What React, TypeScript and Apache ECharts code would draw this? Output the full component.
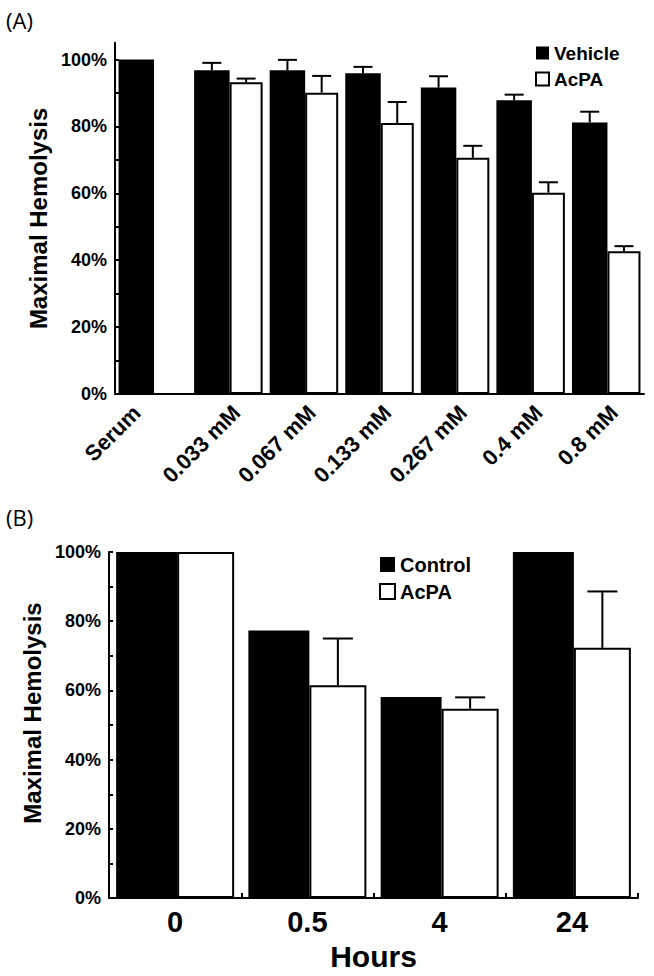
import React, { useEffect, useRef } from "react";
import * as echarts from "echarts";

// ---------- Data ----------
const catsA = ["Serum", "0.033 mM", "0.067 mM", "0.133 mM", "0.267 mM", "0.4 mM", "0.8 mM"];
const vehicleA = [100, 96.8, 96.8, 95.9, 91.6, 87.8, 81.2];
const vehicleErrTopA = [null, 99.0, 99.9, 97.8, 95.0, 89.5, 84.4];
const acpaA = [null, 93.2, 90.1, 81.0, 70.6, 60.2, 42.7];
const acpaErrTopA = [null, 94.3, 95.1, 87.3, 74.2, 63.3, 44.2];

const catsB = ["0", "0.5", "4", "24"];
const controlB = [100, 77.3, 58.1, 100];
const acpaB = [100, 61.5, 54.7, 72.3];
const acpaErrTopB = [null, 75.0, 58.0, 88.6];

const yLabelValues = [0, 20, 40, 60, 80, 100];
const yTickValues = [0, 10, 20, 30, 40, 50, 60, 70, 80, 90, 100];

const FONT = "'Liberation Sans', Arial, sans-serif";

// bar geometry (styles)
const A_BLACK_W = 35.5;
const A_WHITE_W = 33;
const B_BLACK_W = 61;
const B_WHITE_W = 57;

function errorBars(
  values: (number | null)[],
  tops: (number | null)[],
  offset: number,
  capW: number
) {
  const data: number[][] = [];
  values.forEach((v, i) => {
    const t = tops[i];
    if (v != null && t != null) data.push([i, v, t]);
  });
  return {
    type: "custom",
    xAxisIndex: 0,
    yAxisIndex: 0,
    silent: true,
    z: 5,
    encode: { x: 0, y: [1, 2] },
    data,
    renderItem: (params: any, api: any) => {
      const i = api.value(0);
      const base = api.coord([i, api.value(1)]);
      const top = api.coord([i, api.value(2)]);
      const x = base[0] + offset;
      return {
        type: "group",
        children: [
          { type: "line", shape: { x1: x, y1: base[1], x2: x, y2: top[1] }, style: { stroke: "#000", lineWidth: 2 } },
          {
            type: "line",
            shape: { x1: x - capW / 2, y1: top[1], x2: x + capW / 2, y2: top[1] },
            style: { stroke: "#000", lineWidth: 2 },
          },
        ],
      };
    },
  };
}

const yAxisCommon = (max: number) => ({
  type: "value",
  min: 0,
  max,
  splitLine: { show: false },
  axisLine: { show: true, lineStyle: { color: "#000", width: 2 } },
  axisTick: { show: true, inside: true, length: 4, lineStyle: { color: "#000", width: 2 }, customValues: yTickValues },
  axisLabel: {
    customValues: yLabelValues,
    formatter: "{value}%",
    color: "#000",
    fontSize: 18,
    fontWeight: "bold",
    fontFamily: FONT,
    margin: 8,
  },
  nameLocation: "middle",
  name: "Maximal Hemolysis",
});

const panelTitle = (text: string, top: number) => ({
  text,
  left: 6,
  top,
  padding: 0,
  textStyle: { fontSize: 22, fontWeight: "normal", fontFamily: "'Open Sans', sans-serif", color: "#000" },
});

const legendCfg = (names: string[], left: number, top: number, box: number, fs: number) => ({
  orient: "vertical",
  left,
  top,
  padding: 0,
  itemWidth: box,
  itemHeight: box,
  itemGap: 6,
  icon: "rect",
  textStyle: { fontSize: fs, fontWeight: "bold", color: "#000", fontFamily: FONT, lineHeight: fs + 1 },
  data: [
    { name: names[0], itemStyle: { color: "#000" } },
    { name: names[1], itemStyle: { color: "#fff", borderColor: "#000", borderWidth: 2 } },
  ],
});

function optionA(): any {
  const aGroup = A_BLACK_W + A_WHITE_W;
  const aBlackOff = -aGroup / 2 + A_BLACK_W / 2;
  const aWhiteOff = -aGroup / 2 + A_BLACK_W + A_WHITE_W / 2;
  return {
    animation: false,
    backgroundColor: "#fff",
    title: [panelTitle("(A)", 9)],
    legend: [legendCfg(["Vehicle", "AcPA"], 535, 43, 13, 19)],
    grid: [{ left: 115, top: 42.8, width: 529, height: 351.2 }],
    xAxis: [
      {
        type: "category",
        data: catsA,
        axisLine: { show: true, lineStyle: { color: "#000", width: 2 } },
        axisTick: { show: false },
        axisLabel: { show: false },
      },
    ],
    yAxis: [
      {
        ...yAxisCommon(105),
        nameGap: 62,
        nameTextStyle: { fontSize: 24, fontWeight: "bold", color: "#000", fontFamily: FONT },
      },
    ],
    series: [
      {
        name: "Vehicle",
        type: "bar",
        data: vehicleA,
        barWidth: A_BLACK_W,
        barGap: "0%",
        itemStyle: { color: "#000" },
      },
      {
        name: "AcPA",
        type: "bar",
        data: acpaA,
        barWidth: A_WHITE_W,
        barGap: "0%",
        itemStyle: { color: "#fff", borderColor: "#000", borderWidth: 2 },
      },
      errorBars(vehicleA, vehicleErrTopA, aBlackOff, 19),
      errorBars(acpaA, acpaErrTopA, aWhiteOff, 19),
    ],
  };
}

// rotated category labels of panel A, anchored through the axis scale
function afterA(chart: any) {
  const graphic = catsA.map((c, i) => {
    const p = chart.convertToPixel({ xAxisIndex: 0, yAxisIndex: 0 }, [i, 0]);
    const dx = i === 0 ? -16 : 8;
    return {
      type: "text",
      x: p[0] + dx,
      y: p[1] + 15,
      rotation: Math.PI / 4,
      silent: true,
      style: {
        text: c,
        fontSize: 22,
        fontWeight: "bold",
        fontFamily: FONT,
        fill: "#000",
        align: "right",
        verticalAlign: "middle",
      },
    };
  });
  chart.setOption({ graphic });
}

function optionB(): any {
  const bGroup = B_BLACK_W + B_WHITE_W;
  const bWhiteOff = -bGroup / 2 + B_BLACK_W + B_WHITE_W / 2;
  return {
    animation: false,
    backgroundColor: "#fff",
    title: [panelTitle("(B)", 6)],
    legend: [legendCfg(["Control", "AcPA"], 379, 54, 15, 20)],
    grid: [{ left: 109, top: 52, width: 529, height: 351 }],
    xAxis: [
      {
        type: "category",
        data: catsB,
        name: "Hours",
        nameLocation: "middle",
        nameGap: 38,
        nameTextStyle: { fontSize: 30, fontWeight: "bold", color: "#000", fontFamily: FONT },
        axisLine: { show: true, lineStyle: { color: "#000", width: 2 } },
        axisTick: { show: true, inside: true, length: 5, lineStyle: { color: "#000", width: 2 } },
        axisLabel: { color: "#000", fontSize: 29, fontWeight: "bold", fontFamily: FONT, margin: 9 },
      },
    ],
    yAxis: [
      {
        ...yAxisCommon(100),
        nameGap: 56,
        nameTextStyle: {
          fontSize: 24,
          fontWeight: "bold",
          color: "#000",
          fontFamily: FONT,
          padding: [0, 0, 0, 24],
        },
      },
    ],
    series: [
      {
        name: "Control",
        type: "bar",
        data: controlB,
        barWidth: B_BLACK_W,
        barGap: "0%",
        itemStyle: { color: "#000" },
      },
      {
        name: "AcPA",
        type: "bar",
        data: acpaB,
        barWidth: B_WHITE_W,
        barGap: "0%",
        itemStyle: { color: "#fff", borderColor: "#000", borderWidth: 2 },
      },
      errorBars(acpaB, acpaErrTopB, bWhiteOff, 30),
    ],
  };
}

function Panel({
  top,
  height,
  make,
  after,
}: {
  top: number;
  height: number;
  make: () => any;
  after?: (c: any) => void;
}) {
  const ref = useRef<HTMLDivElement>(null);
  useEffect(() => {
    if (!ref.current) return;
    const chart = echarts.init(ref.current, undefined, { renderer: "svg" });
    chart.setOption(make());
    if (after) after(chart);
    return () => chart.dispose();
  }, []);
  return <div ref={ref} style={{ position: "absolute", left: 0, top, width: 654, height }} />;
}

export default function App() {
  return (
    <div style={{ position: "absolute", left: 0, top: 0, width: 654, height: 976, background: "#fff" }}>
      <Panel top={0} height={500} make={optionA} after={afterA} />
      <Panel top={500} height={476} make={optionB} />
    </div>
  );
}
